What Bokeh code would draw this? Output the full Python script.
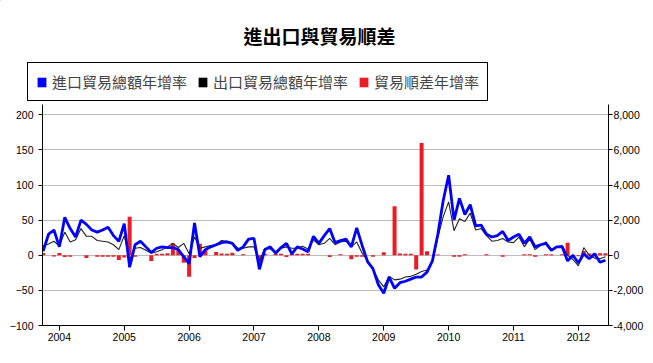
import numpy as np
from bokeh.plotting import figure
from bokeh.layouts import column, row
from bokeh.models import (Range1d, LinearAxis, FixedTicker, NumeralTickFormatter,
                          ColumnDataSource, Legend, LegendItem, Label)
from bokeh.embed import file_html
from bokeh.resources import INLINE

# Monthly data, Oct 2003 .. Jun 2012
months = [f"{y}-{m:02d}" for y in range(2003, 2013) for m in range(1, 13)][9:9 + 105]

import_growth = [
    6, 30, 36,
    12, 54, 38, 26, 50, 44, 36, 33, 36, 40, 28, 20,
    45, -17, 15, 20, 12, 4, 10, 12, 11, 11, 8, -2,
    -12, 46, -2, 8, 12, 15, 18, 19, 17, 7, 12, 23,
    24, -20, 8, 12, 3, 11, 17, 2, 12, 9, 5, 27,
    17, 28, 38, 18, 21, 23, 12, 39, 14, -9, -19, -42,
    -54, -31, -47, -39, -37, -34, -31, -31, -24, -8, 30, 78,
    114, 50, 81, 58, 72, 42, 43, 30, 26, 28, 34, 21,
    26, 30, 17, 26, 12, 15, 17, 7, 12, 12, -8, 0,
    -11, 2, -5, 2, -10, -7,
]

export_growth = [
    14, 16, 20,
    13, 33, 19, 22, 38, 27, 27, 21, 20, 19, 15, 8,
    28, -6, 10, 11, 7, 3, 5, 8, 12, 17, 11, 17,
    2, 26, 10, 12, 14, 15, 21, 20, 17, 10, 10, 12,
    12, -8, 10, 9, 5, 10, 12, 10, 10, 13, 9, 22,
    15, 17, 24, 15, 19, 20, 12, 19, 3, -7, -20, -35,
    -45, -30, -35, -34, -31, -30, -27, -23, -21, -9, 25, 55,
    76, 35, 52, 48, 60, 36, 38, 28, 20, 21, 24, 19,
    18, 26, 12, 23, 8, 14, 19, 8, 12, 14, 0, -6,
    -15, 11, 0, -4, -5, -2,
]

surplus_growth = [
    130, 0, -75,
    130, -95, -80, 0, 0, -150, 0, -80, -80, -80, -80, -265,
    -120, 2200, -80, 0, 0, -320, 80, 80, 110, 670, 270, -420,
    -1220, -160, 650, 290, 0, 190, 95, 80, 150, 0, 60, 0,
    0, -510, 80, 0, 80, 80, -95, 80, 80, 80, 80, 0,
    0, 0, -95, 0, 55, 0, -230, -80, -80, 0, -80, 0,
    170, 0, 2790, 100, 80, 80, -815, 6400, 235, 0, 50, 0,
    0, -90, -90, 60, 0, 0, 0, 60, 0, 0, -90, 0,
    0, 0, 55, 55, -90, 0, 55, 55, 0, 55, 710, -90,
    -60, 250, 95, 105, 110, 110,
]

year_labels = ["2004", "2005", "2006", "2007", "2008", "2009", "2010", "2011", "2012"]
left_ticks = [-100, -50, 0, 50, 100, 150, 200]
right_ticks = [-4000, -2000, 0, 2000, 4000, 6000, 8000]
title_text = "進出口與貿易順差"
series_names = ["進口貿易總額年增率", "出口貿易總額年增率", "貿易順差年增率"]

# month index with Jan 2004 = 0
xidx = [int(m[:4]) * 12 + int(m[5:]) - 1 - 2004 * 12 for m in months]

src = ColumnDataSource(dict(x=xidx, imp=import_growth, exp=export_growth, sur=surplus_growth))

FONT_CJK = "Noto Sans CJK TC"
FONT_TICK = "Liberation Sans"
BLUE, BLACK, RED = "#0000FF", "#000000", "#ED1C24"

W = 647
HEAD_H = 104

# ---------------- header: title + legend ----------------
head = figure(width=W, height=HEAD_H, min_border=0,
              min_border_left=0, min_border_right=0, min_border_top=0, min_border_bottom=0,
              x_axis_type=None, y_axis_type=None,
              x_range=Range1d(0, 1), y_range=Range1d(0, 1),
              output_backend="svg", toolbar_location=None)
head.outline_line_color = None
head.xgrid.visible = False
head.ygrid.visible = False

head.add_layout(Label(x=243, y=HEAD_H - 35, x_units="screen", y_units="screen", text=title_text,
                      text_font=FONT_CJK, text_font_size="19px", text_font_style="bold",
                      text_align="left", text_baseline="middle", text_color="black"))

# legend swatch proxies: zero-height bars (never visible)
sw_src = ColumnDataSource(dict(x=xidx[:1], imp=import_growth[:1]))
sw_imp = head.vbar(x="x", top="imp", bottom="imp", width=1, source=sw_src, fill_color=BLUE, line_color=None)
sw_exp = head.vbar(x="x", top="imp", bottom="imp", width=1, source=sw_src, fill_color=BLACK, line_color=None)
sw_sur = head.vbar(x="x", top="imp", bottom="imp", width=1, source=sw_src, fill_color=RED, line_color=None)
legend = Legend(items=[LegendItem(label=series_names[0], renderers=[sw_imp]),
                       LegendItem(label=series_names[1], renderers=[sw_exp]),
                       LegendItem(label=series_names[2], renderers=[sw_sur])],
                location=(27, 3), orientation="horizontal")
legend.label_text_font = FONT_CJK
legend.label_text_font_size = "15px"
legend.label_standoff = 5
legend.glyph_width = 11
legend.glyph_height = 12
legend.label_height = 15
legend.spacing = 10
legend.padding = 8
legend.margin = 0
legend.border_line_color = "black"
legend.border_line_width = 1
legend.border_line_alpha = 1
legend.background_fill_alpha = 1
head.add_layout(legend, "center")

# ---------------- main chart ----------------
p = figure(width=W, height=256,
           min_border_left=42, min_border_right=39, min_border_top=0, min_border_bottom=35,
           x_range=Range1d(-3.12, 101.57), y_range=Range1d(-100, 214.7),
           output_backend="svg", toolbar_location=None)
p.extra_y_ranges = {"right": Range1d(-4000, 214.7 * 40)}

p.outline_line_color = None
p.xgrid.visible = False
p.ygrid.ticker = FixedTicker(ticks=left_ticks)
p.ygrid.grid_line_color = "#bdbdbd"
p.ygrid.grid_line_width = 1

p.vbar(x="x", top="sur", bottom=0, width=0.74, source=src, y_range_name="right",
       fill_color=RED, line_color=None)
p.line(x="x", y="exp", source=src, line_color="#222222", line_width=1.1)
p.line(x="x", y="imp", source=src, line_color=BLUE, line_width=2.8)

def style_axis(ax):
    ax.axis_line_color = "black"
    ax.major_tick_line_color = "black"
    ax.minor_tick_line_color = None
    ax.major_tick_in = 0
    ax.major_tick_out = 4
    ax.major_label_text_font = FONT_TICK
    ax.major_label_text_font_size = "10.5px"
    ax.major_label_text_color = "black"

xa = p.xaxis[0]
style_axis(xa)
xa.ticker = FixedTicker(ticks=[12 * i for i in range(len(year_labels))])
xa.major_label_overrides = {12 * i: lab for i, lab in enumerate(year_labels)}
xa.major_tick_out = 5
xa.major_label_standoff = 2

ya = p.yaxis[0]
style_axis(ya)
ya.ticker = FixedTicker(ticks=left_ticks)
ya.major_label_standoff = 5

ra = LinearAxis(y_range_name="right")
style_axis(ra)
ra.ticker = FixedTicker(ticks=right_ticks)
ra.formatter = NumeralTickFormatter(format="0,0")
ra.major_label_standoff = 1
p.add_layout(ra, "right")

layout = column(row(head), p, spacing=0)
open("out.html", "w").write(file_html(layout, INLINE))
